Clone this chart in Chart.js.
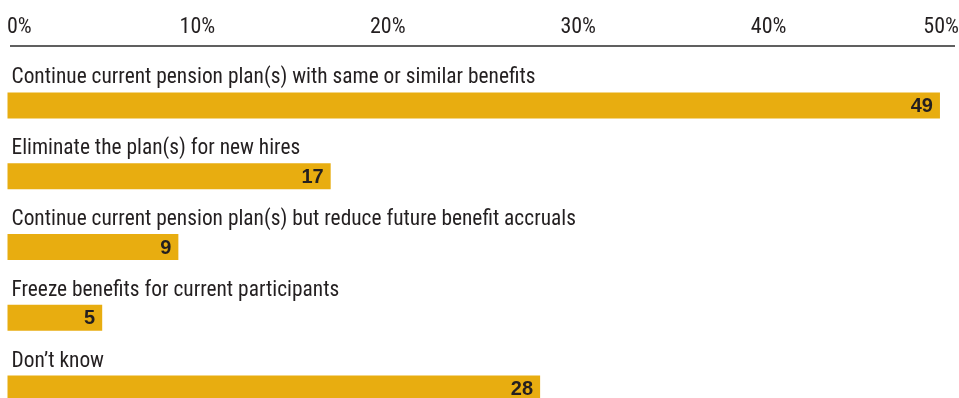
<!DOCTYPE html>
<html><head><meta charset="utf-8">
<script src="https://cdn.jsdelivr.net/npm/chart.js@4"></script>
<style>
html,body{margin:0;padding:0;background:#fff;overflow:hidden}
#wrap{position:relative;width:959px;height:424px}
</style>
</head><body><div id="wrap"><canvas id="c"></canvas></div>
<script>
const categories = [
  'Continue current pension plan(s) with same or similar benefits',
  'Eliminate the plan(s) for new hires',
  'Continue current pension plan(s) but reduce future benefit accruals',
  'Freeze benefits for current participants',
  'Don\u2019t know'
];
const values = [49, 17, 9, 5, 28];
const tickLabels = ['0%', '10%', '20%', '30%', '40%', '50%'];
const xMin = 0, xMax = 50, xStep = 10;

const BAR = '#E8AD10';
const INK = '#231F20';
const NARROW = "'Roboto Condensed','Liberation Sans Narrow',sans-serif";

const annot = {
  id: 'annot',
  afterDatasetsDraw(chart) {
    const ctx = chart.ctx;
    const area = chart.chartArea;
    const meta = chart.getDatasetMeta(0);
    ctx.save();
    // axis rule under the tick labels
    ctx.strokeStyle = '#2b2b2b';
    ctx.lineWidth = 1.5;
    ctx.beginPath();
    ctx.moveTo(area.left + 3, area.top - 24);
    ctx.lineTo(area.right - 4, area.top - 24);
    ctx.stroke();
    meta.data.forEach((bar, i) => {
      const p = bar.getProps(['x', 'y', 'base', 'height'], true);
      const top = p.y - p.height / 2;
      ctx.fillStyle = INK;
      ctx.font = '21.4px ' + NARROW;
      ctx.textAlign = 'left';
      ctx.textBaseline = 'alphabetic';
      ctx.fillText(categories[i], p.base + 4, top - 9);
      ctx.font = "bold 20px 'Liberation Sans', Arial, sans-serif";
      ctx.textAlign = 'right';
      ctx.textBaseline = 'middle';
      ctx.fillText(String(values[i]), p.x - 7, p.y + 1);
    });
    ctx.restore();
  }
};

new Chart(document.getElementById('c'), {
  type: 'bar',
  data: {
    labels: categories,
    datasets: [{
      data: values,
      backgroundColor: BAR,
      borderWidth: 0,
      barPercentage: 0.367,
      categoryPercentage: 1
    }]
  },
  options: {
    indexAxis: 'y',
    responsive: true,
    maintainAspectRatio: false,
    animation: false,
    layout: { padding: { left: 7, right: 0, top: 0, bottom: 0 } },
    plugins: { legend: { display: false }, tooltip: { enabled: false } },
    scales: {
      x: {
        position: 'top',
        min: xMin, max: xMax,
        grid: { display: true, drawOnChartArea: false, drawTicks: true, tickLength: 29, tickColor: 'rgba(0,0,0,0)' },
        border: { display: false },
        ticks: {
          stepSize: xStep,
          align: 'inner',
          padding: 0,
          color: INK,
          font: { family: NARROW, size: 22 },
          callback: (v, i) => tickLabels[i]
        },
        afterFit: (s) => { s.height = 70; }
      },
      y: { display: false }
    }
  },
  plugins: [annot]
});
</script>
</body></html>
